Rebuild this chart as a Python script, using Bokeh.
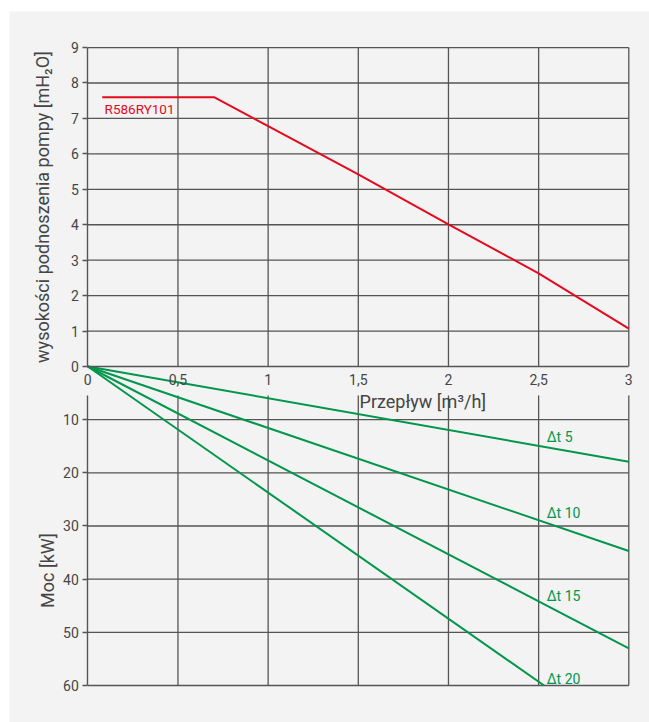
import math

from bokeh.plotting import figure
from bokeh.models import Range1d, LinearAxis, FixedTicker, Label, Spacer
from bokeh.layouts import column, row
from bokeh.core.properties import value
from bokeh.embed import file_html
from bokeh.resources import INLINE

# Pump head curve (flow in m3/h, head in m H2O)
pump_name = "R586RY101"
pump_flow = [0.08, 0.7, 1.0, 1.5, 2.0, 2.5, 3.0]
pump_head = [7.6, 7.6, 6.78, 5.42, 4.01, 2.63, 1.07]

# Heat output (kW) against flow for several temperature differences
dt_names = ["Δt 5", "Δt 10", "Δt 15", "Δt 20"]
dt_flow = [[0, 3.0], [0, 3.0], [0, 3.0], [0, 2.53]]
dt_power = [[0, 17.9], [0, 34.7], [0, 53.0], [0, 60.0]]

# Axis ticks
flow_ticks = [0, 0.5, 1, 1.5, 2, 2.5, 3]
flow_tick_labels = ["0", "0,5", "1", "1,5", "2", "2,5", "3"]
head_ticks = [0, 1, 2, 3, 4, 5, 6, 7, 8, 9]
power_ticks = [10, 20, 30, 40, 50, 60]

FONT = "Roboto"
BG = "#f3f3f3"
GRID = "#555555"
RED = "#e30a1e"
GREEN = "#00964b"
TEXT = "#454545"

# The plotting frame fills the whole figure; both panels share the zero line.
p = figure(
    width=640, height=711,
    x_range=Range1d(-0.4342, 3.1148),
    y_range=Range1d(-10.045, 10.017),
    x_axis_location=None, y_axis_location=None,
    min_border=0, min_border_left=0, min_border_right=0,
    min_border_top=0, min_border_bottom=0,
    output_backend="svg", toolbar_location=None,
)
p.extra_y_ranges = {"power": Range1d(start=66.96, end=-66.77)}
p.grid.visible = False
p.background_fill_color = BG
p.border_fill_color = BG
p.outline_line_color = None

# Upper panel grid (head)
top_v = flow_ticks[1:]
p.segment(x0=top_v, x1=top_v, y0=[0] * len(top_v), y1=[head_ticks[-1]] * len(top_v),
          line_color=GRID, line_width=1.3)
top_h = head_ticks[1:]
p.segment(x0=[0] * len(top_h), x1=[flow_ticks[-1]] * len(top_h), y0=top_h, y1=top_h,
          line_color=GRID, line_width=1.3)

# Lower panel grid (power), starting below the flow axis title
power_grid_top = 5.45
p.segment(x0=top_v, x1=top_v, y0=[power_grid_top] * len(top_v), y1=[power_ticks[-1]] * len(top_v),
          line_color=GRID, line_width=1.3, y_range_name="power")
p.segment(x0=[0] * len(power_ticks), x1=[flow_ticks[-1]] * len(power_ticks),
          y0=power_ticks, y1=power_ticks,
          line_color=GRID, line_width=1.3, y_range_name="power")

# Pump curve
p.line(pump_flow, pump_head, line_color=RED, line_width=2)
p.text(x=[0.093], y=[7.27], text=[pump_name], text_font=value(FONT),
       text_font_size="13.5px", text_color=RED, text_baseline="middle")

# Power lines
for fl, pw in zip(dt_flow, dt_power):
    p.line(fl, pw, line_color=GREEN, line_width=2, y_range_name="power")
p.text(x=[2.545] * 4, y=[13.3, 27.6, 43.2, 58.8], text=dt_names,
       text_font=value(FONT), text_font_size="14px", text_color=GREEN,
       text_baseline="middle", y_range_name="power")

# Axes, all anchored at the origin
def style_axis(ax):
    ax.axis_line_color = GRID
    ax.axis_line_width = 1.4
    ax.major_tick_line_color = GRID
    ax.major_tick_line_width = 1.3
    ax.minor_tick_line_color = None
    ax.major_label_text_font = FONT
    ax.major_label_text_font_size = "14px"
    ax.major_label_text_color = TEXT

head_axis = LinearAxis(ticker=FixedTicker(ticks=head_ticks), bounds=(0, 9), fixed_location=0,
                       major_tick_out=5, major_tick_in=0, major_label_standoff=4)
style_axis(head_axis)
p.add_layout(head_axis, "left")

power_axis = LinearAxis(ticker=FixedTicker(ticks=power_ticks), bounds=(power_grid_top, 60),
                        fixed_location=0, y_range_name="power",
                        major_tick_out=5, major_tick_in=0, major_label_standoff=4)
style_axis(power_axis)
p.add_layout(power_axis, "left")

flow_axis = LinearAxis(ticker=FixedTicker(ticks=flow_ticks), bounds=(0, 3), fixed_location=0,
                       major_tick_out=0, major_tick_in=0, major_label_standoff=7,
                       major_label_overrides={t: s for t, s in zip(flow_ticks, flow_tick_labels)})
style_axis(flow_axis)
p.add_layout(flow_axis, "below")

# Axis titles
p.add_layout(Label(x=-0.25, y=4.5, text="wysokości podnoszenia pompy [mH₂O]",
                   angle=math.pi / 2, text_align="center", text_baseline="middle",
                   text_font=FONT, text_font_size="18px", text_color=TEXT))
p.add_layout(Label(x=-0.225, y=38.4, y_range_name="power", text="Moc [kW]",
                   angle=math.pi / 2, text_align="center", text_baseline="middle",
                   text_font=FONT, text_font_size="18px", text_color=TEXT))
p.add_layout(Label(x=1.507, y=6.6, y_range_name="power", text="Przepływ [m³/h]",
                   text_align="left", text_baseline="middle",
                   text_font=FONT, text_font_size="18px", text_color=TEXT))

layout = column(Spacer(height=11), row(Spacer(width=9), p))

with open("out.html", "w") as f:
    f.write(file_html(layout, INLINE))
